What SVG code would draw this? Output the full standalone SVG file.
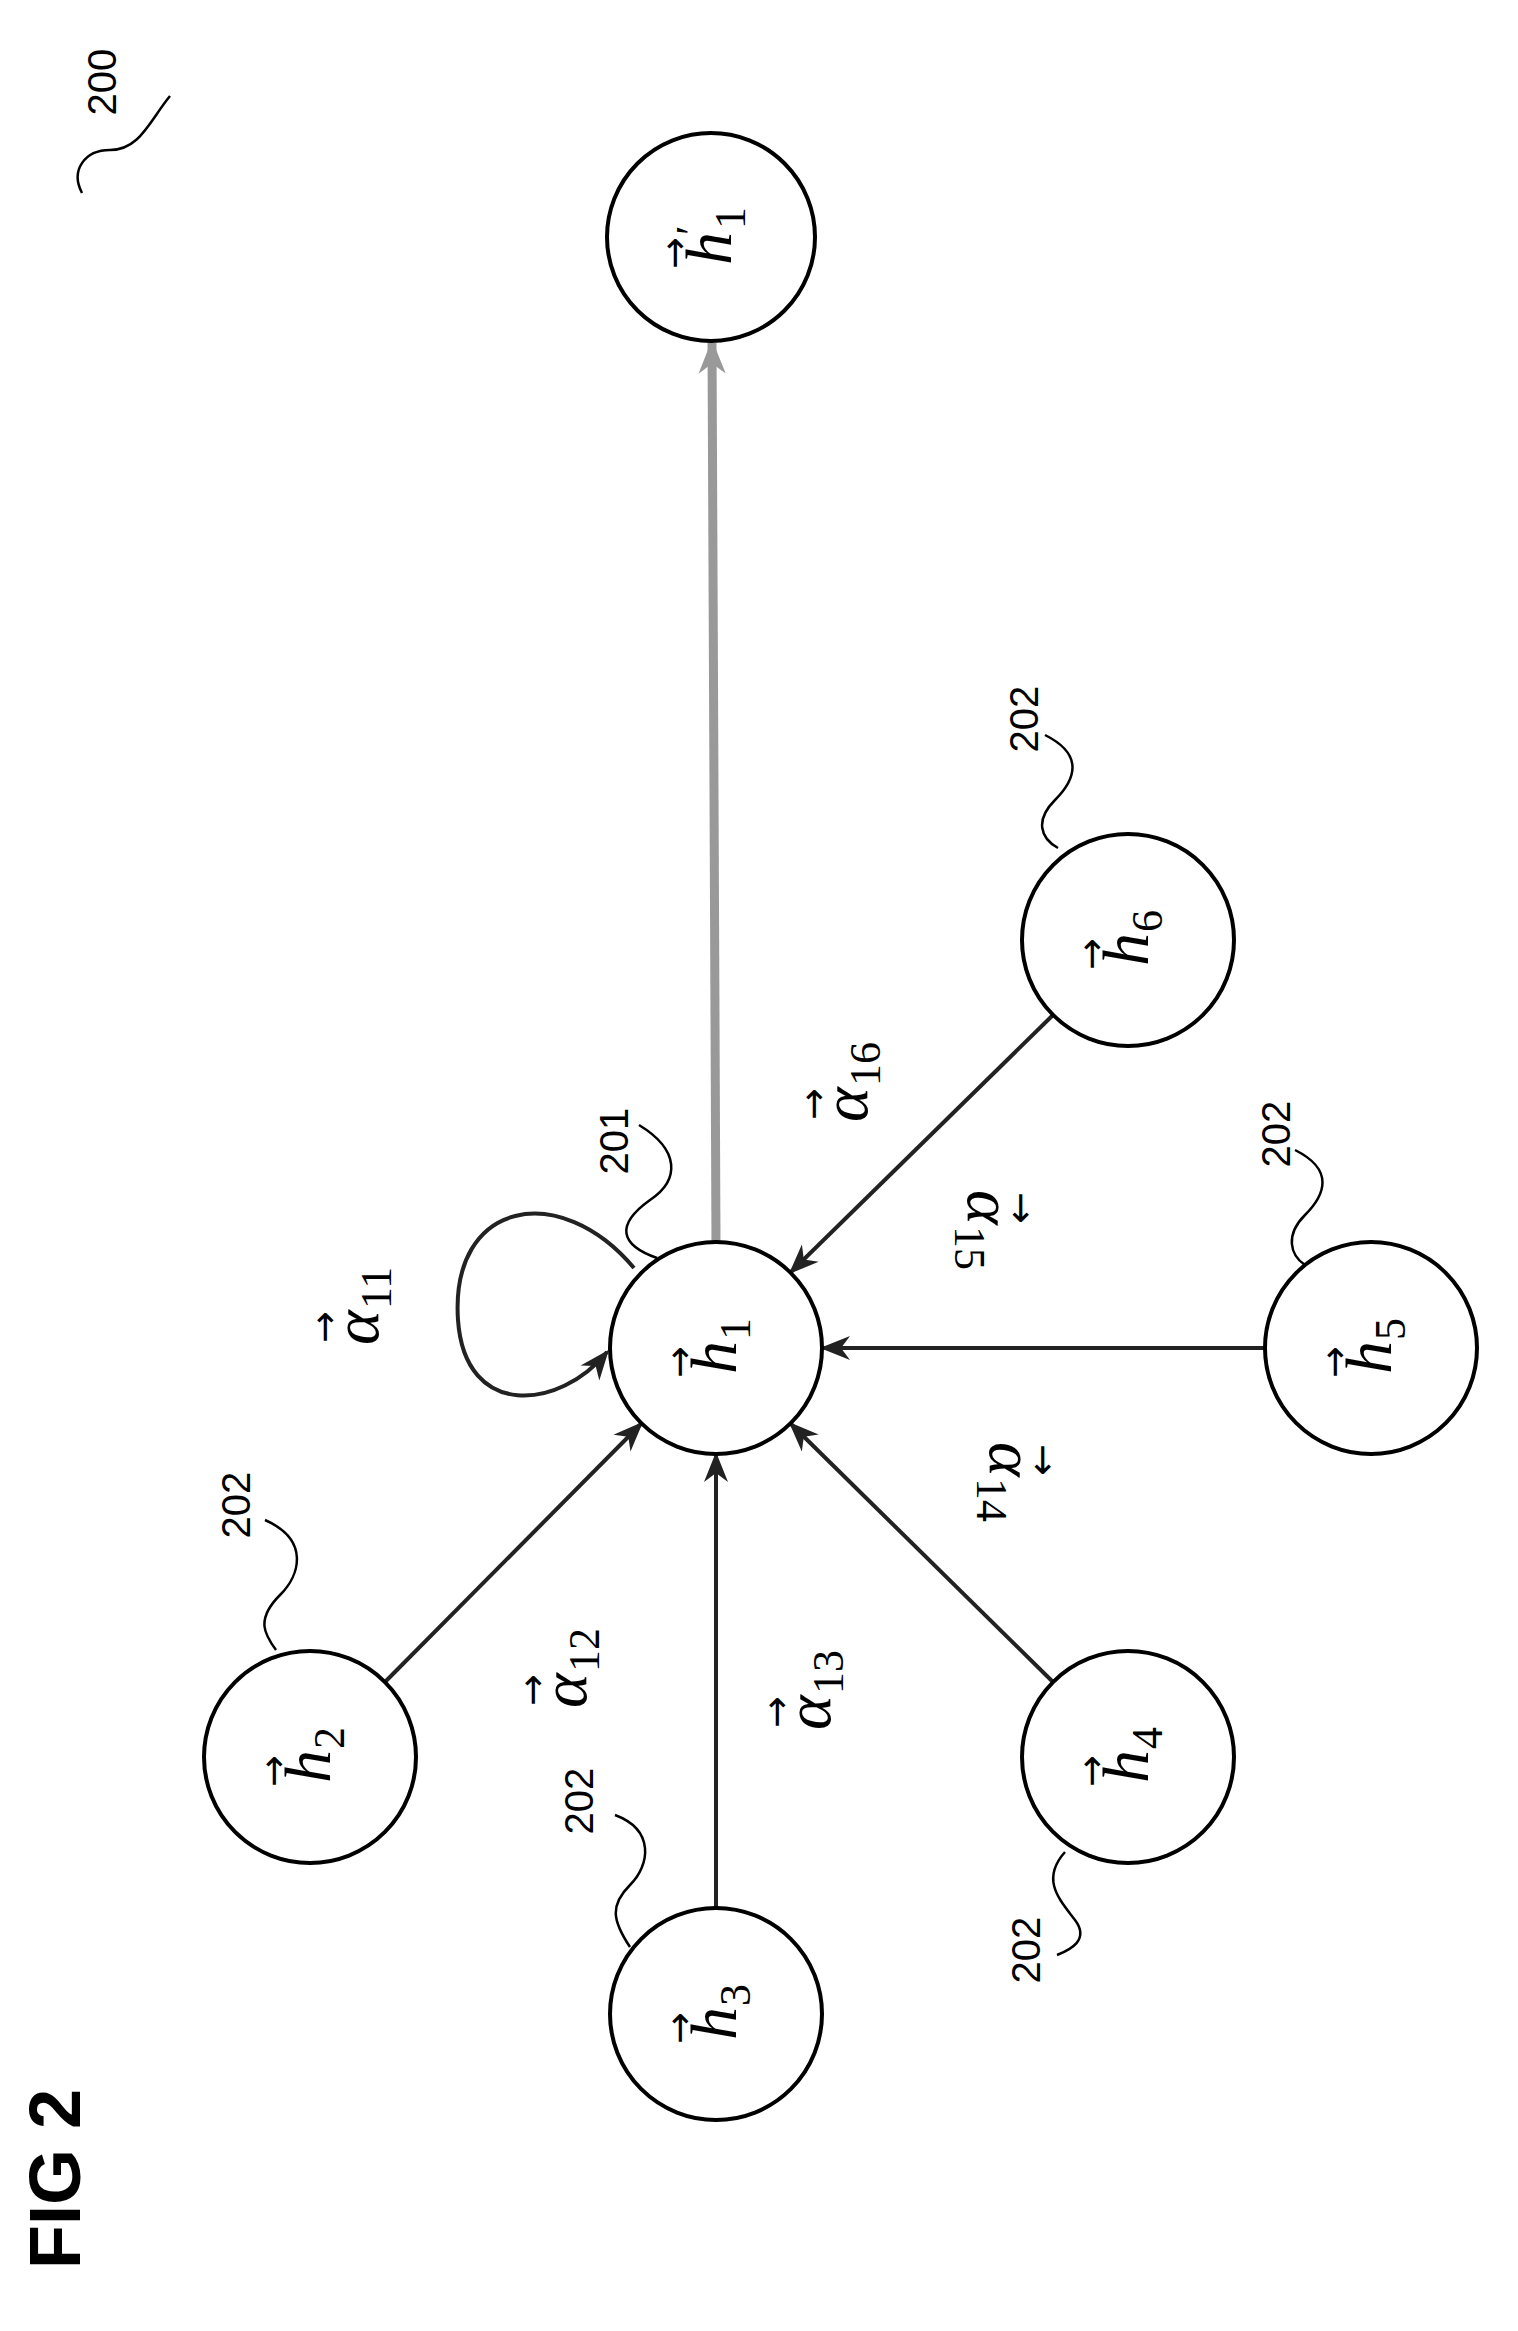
<svg xmlns="http://www.w3.org/2000/svg" width="1518" height="2331" viewBox="0 0 1518 2331">
<style>
.n{fill:#fff;stroke:#000;stroke-width:4}
.e{stroke:#222;stroke-width:4;fill:none;marker-end:url(#a)}
.l{fill:none;stroke:#000;stroke-width:2.5}
.m{font-family:"Liberation Serif",serif;font-style:italic;font-size:66px;fill:#000}
.s{font-family:"Liberation Serif",serif;font-size:44px;fill:#000}
.v{font-family:"DejaVu Sans",sans-serif;font-size:38px;fill:#000}
.r{font-family:"Liberation Sans",sans-serif;font-size:40px;fill:#000}
</style>
<defs>
<marker id="a" viewBox="0 0 10 10" refX="9" refY="5" markerWidth="30" markerHeight="30" markerUnits="userSpaceOnUse" orient="auto"><path d="M0,1 L10,5 L0,9 L3,5 z" fill="#222"/></marker>
<marker id="g" viewBox="0 0 10 10" refX="9" refY="5" markerWidth="34" markerHeight="34" markerUnits="userSpaceOnUse" orient="auto"><path d="M0,1 L10,5 L0,9 L3,5 z" fill="#999"/></marker>
</defs>
<g id="connectors">
<line x1="716" y1="1243" x2="712" y2="343" stroke="#999" stroke-width="9" marker-end="url(#g)"/>
<line class="e" x1="385" y1="1682" x2="641" y2="1424"/>
<line class="e" x1="716" y1="1909" x2="716" y2="1455"/>
<line class="e" x1="1053" y1="1682" x2="791" y2="1424"/>
<line class="e" x1="1265" y1="1348" x2="823" y2="1348"/>
<line class="e" x1="1053" y1="1015" x2="791" y2="1272"/>
<path class="e" d="M634 1268 C560 1180 450 1200 458 1320 C465 1420 560 1410 607 1352"/>
</g>
<g id="h1p" transform="translate(711 237)"><circle class="n" r="104"/><g transform="rotate(-90)"><text class="v" x="-32" y="-24">→</text><text class="m" x="-28" y="20">h</text><text class="s" x="2" y="-5">′</text><text class="s" x="8" y="34">1</text></g></g>
<g id="h1" transform="translate(716 1348)"><circle class="n" r="106"/><g transform="rotate(-90)"><text class="v" x="-30" y="-24">→</text><text class="m" x="-26" y="20">h</text><text class="s" x="8" y="34">1</text></g></g>
<g id="h2" transform="translate(310 1757)"><circle class="n" r="106"/><g transform="rotate(-90)"><text class="v" x="-30" y="-24">→</text><text class="m" x="-26" y="20">h</text><text class="s" x="8" y="34">2</text></g></g>
<g id="h3" transform="translate(716 2014)"><circle class="n" r="106"/><g transform="rotate(-90)"><text class="v" x="-30" y="-24">→</text><text class="m" x="-26" y="20">h</text><text class="s" x="8" y="34">3</text></g></g>
<g id="h4" transform="translate(1128 1757)"><circle class="n" r="106"/><g transform="rotate(-90)"><text class="v" x="-30" y="-24">→</text><text class="m" x="-26" y="20">h</text><text class="s" x="8" y="34">4</text></g></g>
<g id="h5" transform="translate(1371 1348)"><circle class="n" r="106"/><g transform="rotate(-90)"><text class="v" x="-30" y="-24">→</text><text class="m" x="-26" y="20">h</text><text class="s" x="8" y="34">5</text></g></g>
<g id="h6" transform="translate(1128 940)"><circle class="n" r="106"/><g transform="rotate(-90)"><text class="v" x="-30" y="-24">→</text><text class="m" x="-26" y="20">h</text><text class="s" x="8" y="34">6</text></g></g>
<g id="labels">
<g transform="translate(363 1305) rotate(-90)"><text class="v" x="-38" y="-26">→</text><text class="m" x="-40" y="15">α</text><text class="s" x="-4" y="28">11</text></g>
<g transform="translate(571 1668) rotate(-90)"><text class="v" x="-38" y="-26">→</text><text class="m" x="-40" y="15">α</text><text class="s" x="-4" y="28">12</text></g>
<g transform="translate(815 1690) rotate(-90)"><text class="v" x="-38" y="-26">→</text><text class="m" x="-40" y="15">α</text><text class="s" x="-4" y="28">13</text></g>
<g transform="translate(1005 1482) rotate(90)"><text class="v" x="-38" y="-26">→</text><text class="m" x="-40" y="15">α</text><text class="s" x="-4" y="28">14</text></g>
<g transform="translate(983 1230) rotate(90)"><text class="v" x="-38" y="-26">→</text><text class="m" x="-40" y="15">α</text><text class="s" x="-4" y="28">15</text></g>
<g transform="translate(852 1082) rotate(-90)"><text class="v" x="-38" y="-26">→</text><text class="m" x="-40" y="15">α</text><text class="s" x="-4" y="28">16</text></g>
</g>
<g id="refs">
<text class="r" transform="translate(116 82) rotate(-90)" text-anchor="middle">200</text>
<path class="l" d="M82 193 C70 170 85 150 110 150 C140 150 150 120 170 96"/>
<text class="r" transform="translate(628 1141) rotate(-90)" text-anchor="middle">201</text>
<path class="l" d="M639 1125 C680 1150 680 1180 650 1200 C615 1225 620 1245 657 1258"/>
<text class="r" transform="translate(250 1505) rotate(-90)" text-anchor="middle">202</text>
<path class="l" d="M265 1520 C310 1540 300 1575 280 1595 C255 1620 265 1635 276 1650"/>
<text class="r" transform="translate(593 1801) rotate(-90)" text-anchor="middle">202</text>
<path class="l" d="M615 1815 C655 1830 650 1865 630 1885 C610 1905 612 1920 630 1947"/>
<text class="r" transform="translate(1040 1950) rotate(-90)" text-anchor="middle">202</text>
<path class="l" d="M1065 1852 C1040 1880 1060 1900 1075 1920 C1090 1940 1070 1950 1057 1955"/>
<text class="r" transform="translate(1038 719) rotate(-90)" text-anchor="middle">202</text>
<path class="l" d="M1045 735 C1085 755 1075 780 1055 800 C1035 820 1040 838 1058 848"/>
<text class="r" transform="translate(1290 1134) rotate(-90)" text-anchor="middle">202</text>
<path class="l" d="M1295 1150 C1335 1170 1325 1195 1305 1215 C1285 1235 1290 1255 1305 1265"/>
<text transform="translate(80 2179) rotate(-90)" text-anchor="middle" font-family="Liberation Sans,sans-serif" font-weight="bold" font-size="72">FIG 2</text>
</g>
</svg>
